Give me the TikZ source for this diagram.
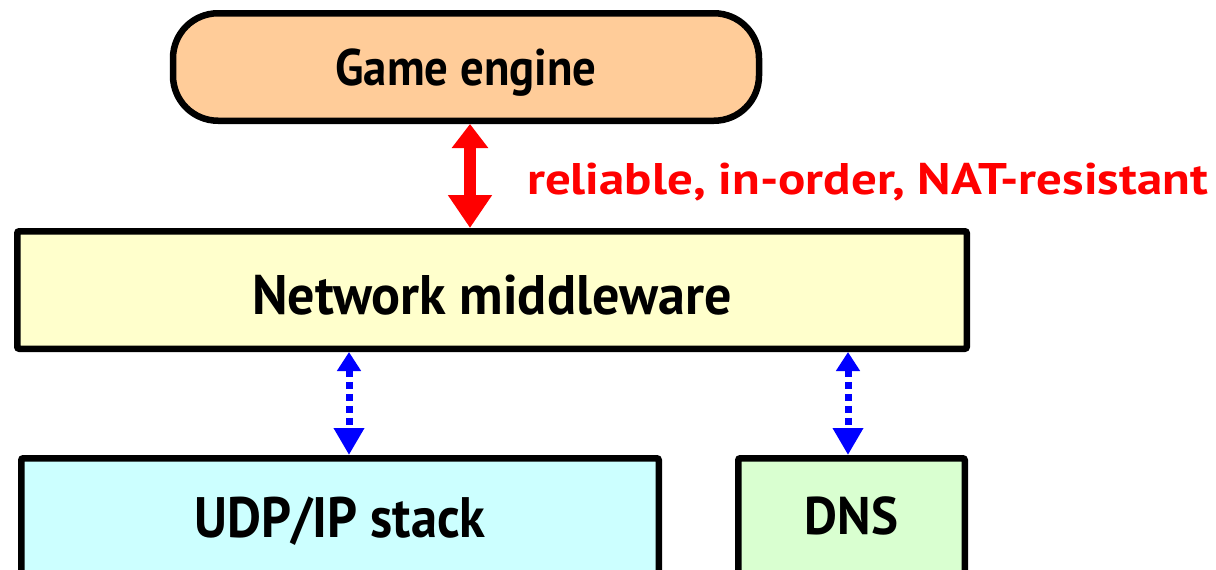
\documentclass[tikz,border=0pt]{standalone}
\usepackage{fontspec}
\setmainfont{PT Sans}
\usetikzlibrary{arrows.meta}
\definecolor{peach}{RGB}{255,204,153}
\definecolor{paleyellow}{RGB}{255,255,204}
\definecolor{palecyan}{RGB}{204,255,255}
\definecolor{palegreen}{RGB}{217,255,208}
% bold face at a given size (pt) and horizontal stretch
\newcommand{\lyrfont}[2]{\fontsize{#1}{#1}\selectfont\bfseries\addfontfeature{FakeStretch=#2}}
\tikzset{
  layer/.style={draw=black, line width=6.5pt, rounded corners=2pt, inner sep=0pt, text depth=0pt},
  redarrow/.style={draw=red, line width=12pt,
    {Triangle[width=35pt,length=24pt]}-{Triangle[width=42pt,length=33pt]}},
  bluearrow/.style={draw=blue, line width=7pt, dash pattern=on 7pt off 5pt,
    {Triangle[width=23pt,length=19pt]}-{Triangle[width=29pt,length=27pt]}},
  tag/.style={text=red, inner sep=0pt, text height=31pt, text depth=0pt,
    font=\lyrfont{44.3}{1.15}}
}
\begin{document}
\begin{tikzpicture}[x=1pt, y=-1pt]
  \useasboundingbox (0,0) rectangle (1216,570);
  \clip (0,0) rectangle (1216,570);
  % stack of layers
  \node[layer, fill=peach, rounded corners=45pt, minimum width=586pt, minimum height=107.5pt,
    text height=37pt, font=\lyrfont{51.4}{0.91}]
    (ge) at (466,67) {Game engine};
  \node[layer, fill=paleyellow, minimum width=949.5pt, minimum height=117.5pt,
    text height=49pt, font=\lyrfont{55.7}{0.97}]
    (mw) at (492,290) {Network middleware};
  \node[layer, fill=palecyan, minimum width=637.5pt, minimum height=121.5pt,
    text height=36pt, font=\lyrfont{57}{0.92}]
    (udp) at (340,519) {UDP/IP stack};
  \node[layer, fill=palegreen, minimum width=226.5pt, minimum height=121.5pt,
    text height=30pt, font=\lyrfont{53}{0.96}]
    (dns) at (851.5,519) {DNS};
  % connectors
  \coordinate (rx) at (470,0);
  \coordinate (bx1) at (349,0);
  \coordinate (bx2) at (848,0);
  \draw[redarrow] (ge.south -| rx) -- (mw.north -| rx);
  \draw[bluearrow] (mw.south -| bx1) -- (udp.north -| bx1);
  \draw[bluearrow] (mw.south -| bx2) -- (dns.north -| bx2);
  \node[tag, anchor=west] (lbl) at (527,178.5) {reliable, in-order, NAT-resistant};
\end{tikzpicture}
\end{document}
